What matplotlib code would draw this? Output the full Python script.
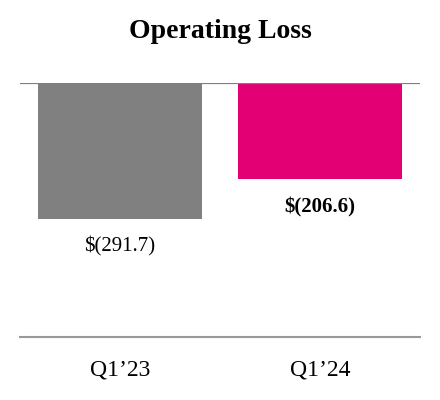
import matplotlib
matplotlib.use("Agg")
import matplotlib.pyplot as plt

categories = ["Q1\u201923", "Q1\u201924"]
values = [-291.7, -206.6]
value_labels = ["$(291.7)", "$(206.6)"]
label_bold = [False, True]
colors = ["#808080", "#E20074"]

plt.rcParams['font.family'] = ['Liberation Serif', 'DejaVu Serif']

fig = plt.figure(figsize=(4.4, 4.0), dpi=100)
ax = fig.add_axes([20/440, 63/400, 400/440, 254/400])
x = list(range(len(categories)))
ax.bar(x, values, width=0.82, color=colors, zorder=2)
ax.set_xlim(-0.5, len(categories) - 0.5)
ax.set_ylim(-545, 0)
ax.axhline(0, color="#7f7f7f", lw=1.6, zorder=3)
for s in ["left", "right", "top"]:
    ax.spines[s].set_visible(False)
ax.spines["bottom"].set_color("#999999")
ax.spines["bottom"].set_linewidth(1.5)
ax.set_yticks([])
ax.set_xticks(x)
ax.set_xticklabels(categories, fontsize=17)
ax.tick_params(axis="x", length=0, pad=16)

for xi, v, lab, b in zip(x, values, value_labels, label_bold):
    ax.annotate(lab, (xi, v), xytext=(0, -20), textcoords="offset points",
                ha="center", va="center", fontsize=15,
                fontweight="bold" if b else "normal")

fig.text(0.5, 1 - 31/400, "Operating Loss", ha="center", va="center",
         fontsize=20, fontweight="bold")

fig.savefig("out.png", dpi=100)
